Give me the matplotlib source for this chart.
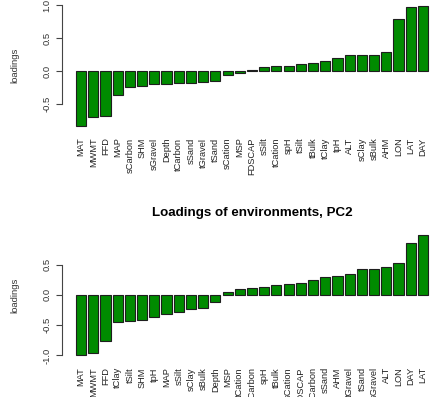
import numpy as np
import matplotlib
matplotlib.use('Agg')
import matplotlib.pyplot as plt

plt.rcParams['font.family'] = ['Liberation Sans', 'DejaVu Sans']

# PC1 loadings (top panel, title cropped off)
pc1_names = ['MAT', 'MWMT', 'FFD', 'MAP', 'sCarbon', 'SHM', 'sGravel', 'Depth',
             'tCarbon', 'sSand', 'tGravel', 'tSand', 'sCation', 'MSP', 'FDSCAP',
             'sSilt', 'tCation', 'spH', 'tSilt', 'tBulk', 'tClay', 'tpH', 'ALT',
             'sClay', 'sBulk', 'AHM', 'LON', 'LAT', 'DAY']
pc1_vals = [-0.83, -0.69, -0.68, -0.37, -0.25, -0.23, -0.20, -0.20,
            -0.18, -0.18, -0.16, -0.15, -0.065, -0.025, 0.01,
            0.055, 0.07, 0.07, 0.10, 0.115, 0.155, 0.19, 0.245,
            0.245, 0.245, 0.28, 0.78, 0.97, 0.99]

# PC2 loadings
pc2_names = ['MAT', 'MWMT', 'FFD', 'tClay', 'tSilt', 'SHM', 'tpH', 'MAP',
             'sSilt', 'sClay', 'sBulk', 'Depth', 'MSP', 'tCation', 'tCarbon',
             'spH', 'tBulk', 'sCation', 'FDSCAP', 'sCarbon', 'sSand', 'AHM',
             'tGravel', 'tSand', 'sGravel', 'ALT', 'LON', 'DAY', 'LAT']
pc2_vals = [-1.0, -0.967, -0.77, -0.45, -0.44, -0.41, -0.36, -0.325,
            -0.29, -0.24, -0.225, -0.12, 0.04, 0.09, 0.11,
            0.125, 0.16, 0.17, 0.19, 0.24, 0.30, 0.31,
            0.35, 0.43, 0.43, 0.46, 0.53, 0.85, 0.99]

W, H = 430, 397
fig = plt.figure(figsize=(W / 100, H / 100), dpi=100)


def panel(names, vals, box, ticks, title=None):
    # box = (left, top, right, bottom) in pixels, like R's plot region
    l, t, r, b = box
    ax = fig.add_axes([l / W, 1 - b / H, (r - l) / W, (b - t) / H])
    n = len(vals)
    lefts = 0.2 + 1.2 * np.arange(n)
    ax.bar(lefts, vals, width=1.0, align='edge', color='#008b00',
           edgecolor='#1e1e1e', linewidth=0.8)
    span = lefts[-1] + 1.0 - lefts[0]
    ax.set_xlim(lefts[0] - 0.04 * span, lefts[-1] + 1.0 + 0.04 * span)
    lo, hi = min(0, min(vals)), max(0, max(vals))
    ax.set_ylim(lo - 0.04 * (hi - lo), hi + 0.04 * (hi - lo))
    for s in ['top', 'right', 'bottom']:
        ax.spines[s].set_visible(False)
    ax.spines['left'].set_bounds(ticks[0], ticks[-1])
    ax.spines['left'].set_color('#444444')
    ax.set_yticks(ticks)
    ax.set_yticklabels(['%.1f' % v for v in ticks], rotation=90, va='center',
                       fontsize=6.8, color='#333333')
    ax.tick_params(axis='y', length=4.5, width=0.8, color='#444444', pad=3)
    ax.set_xticks(lefts + 0.5)
    ax.set_xticklabels(names, rotation=90, fontsize=6.7, color='#222222')
    ax.tick_params(axis='x', length=0, pad=5)
    fig.text(15 / W, 1 - (t + b) / 2 / H, 'loadings', rotation=90,
             ha='center', va='center', fontsize=6.8, color='#333333')
    if title:
        fig.text((l + r) / 2 / W, 1 - 212.7 / H, title, ha='center',
                 va='center', fontsize=9.6, fontweight='bold')
    return ax


panel(pc1_names, pc1_vals, (62, 0.8, 442, 130.6), [-0.5, 0.0, 0.5, 1.0])
panel(pc2_names, pc2_vals, (62, 230, 442, 360.2), [-1.0, -0.5, 0.0, 0.5],
      title='Loadings of environments, PC2')

fig.savefig('out.png', dpi=100)
